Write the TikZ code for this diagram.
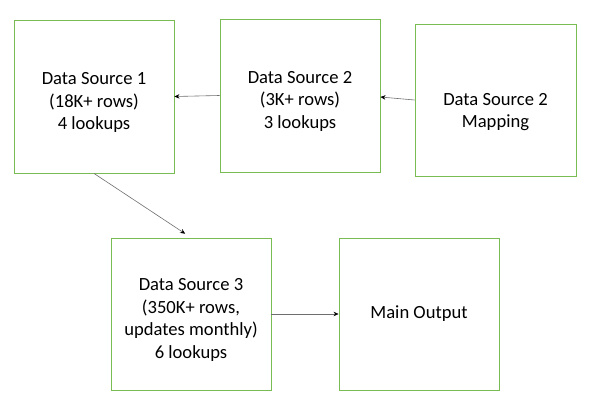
\documentclass[tikz,border=0pt]{standalone}
\usepackage{fontspec}
\setmainfont{Carlito}
\usetikzlibrary{arrows.meta, positioning}
\definecolor{boxgreen}{RGB}{122,188,84}
\definecolor{linegray}{RGB}{110,110,110}
\newcommand{\padtop}[1]{\rule{0pt}{#1}}
\tikzstyle{source} = [rectangle, minimum width=160pt, minimum height=153pt, text centered, draw=boxgreen, line width=0.9pt, fill=white]
\tikzstyle{arrow} = [draw=linegray, line width=0.6pt, -{Stealth[length=5pt,width=4.5pt,black]}]

\begin{document}
\begin{tikzpicture}[node distance=206pt, align=center, font=\fontsize{18.6}{22.7}\selectfont]

\node (ds1) [source] at (94pt,-96.5pt) {\padtop{24pt}Data Source 1\\(18K+ rows)\\4 lookups};
\useasboundingbox (0,0) rectangle (592pt,-414pt);

\node (ds2) [source, right of=ds1, yshift=1pt] {\padtop{24pt}Data Source 2\\(3K+ rows)\\3 lookups};

\node (map) [source, right of=ds2, xshift=-10.5pt, yshift=-4.5pt, minimum width=161pt, minimum height=152pt] {\padtop{36pt}Data Source 2\\Mapping};

\node (ds3) [source, below of=ds1, yshift=-11.5pt, xshift=97pt, minimum height=152pt] {\padtop{24pt}Data Source 3\\(350K+ rows,\\updates monthly)\\6 lookups};

\node (out) [source, right of=ds3, xshift=22pt, minimum height=152pt] {Main Output};

\draw[arrow] (ds2.west) -- (ds1.east);
\draw[arrow] (map.west) -- ([yshift=-1.5pt]ds2.east);
\draw[arrow, shorten >=7pt] (ds1.south) -- (ds3.north);
\draw[arrow] (ds3.east) -- (out.west);

\end{tikzpicture}
\end{document}
